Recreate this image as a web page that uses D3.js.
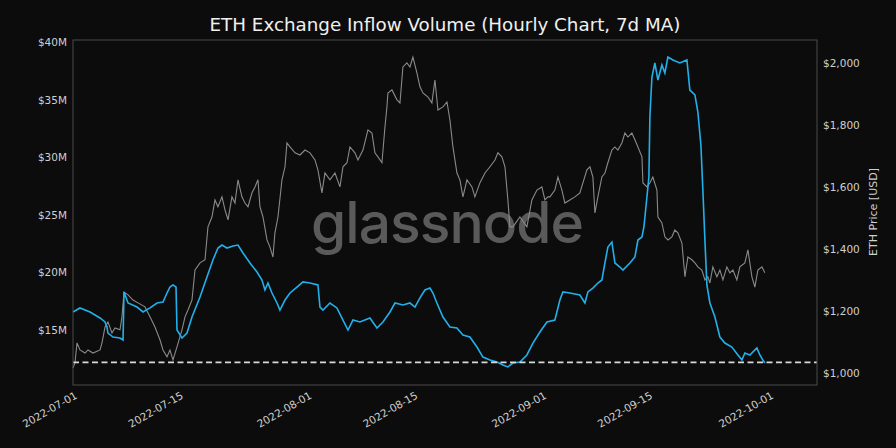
<!DOCTYPE html>
<html><head><meta charset="utf-8">
<script src="https://cdn.jsdelivr.net/npm/d3@7"></script>
<style>html,body{margin:0;padding:0;background:#0c0c0c;}svg{display:block;}</style>
</head><body>
<script>
// ---- data (days since 2022-07-01 00:00 UTC) ----
const inflowDays = [0.00,0.92,2.25,3.57,4.23,4.49,4.62,5.28,6.21,6.61,6.74,7.27,8.45,9.25,10.17,11.10,11.89,12.42,12.81,13.21,13.61,13.74,14.40,15.06,15.72,16.78,17.70,18.49,19.15,19.68,20.34,21.14,21.80,22.46,23.38,24.31,24.97,25.36,25.76,26.29,26.95,27.34,28.01,28.67,29.59,30.38,31.31,32.36,32.63,33.03,33.95,34.87,35.67,36.33,36.99,37.91,39.23,40.16,40.95,41.88,42.54,43.59,44.52,45.18,45.84,46.50,47.16,47.56,48.08,48.88,49.80,50.73,51.52,52.44,53.37,54.16,55.09,56.01,56.80,57.46,58.12,59.05,59.97,60.77,61.69,62.62,63.67,64.33,64.73,65.65,66.97,67.64,68.03,68.69,69.35,69.88,70.28,70.67,71.20,71.60,72.26,72.66,73.58,74.24,74.64,75.17,75.43,75.83,76.09,76.22,76.49,76.88,77.28,77.81,78.20,78.60,79.26,80.18,81.11,81.50,82.17,82.56,82.96,83.22,83.49,83.75,84.15,84.81,85.47,86.13,87.05,87.85,88.38,88.77,89.43,90.36,90.75,91.15,91.41];
const inflowUsdM = [16.55,16.90,16.55,16.03,15.68,15.24,14.72,14.37,14.29,14.11,18.29,17.33,16.98,16.55,16.90,17.33,17.42,18.20,18.72,18.90,18.72,14.98,14.29,14.72,16.11,17.85,19.59,21.07,22.11,22.37,22.11,22.29,22.37,21.68,20.81,20.03,19.33,18.46,19.07,18.20,17.33,16.72,17.59,18.20,18.72,19.16,19.07,18.90,16.98,16.72,17.33,16.90,15.85,14.98,15.85,15.68,16.03,15.16,15.68,16.55,17.33,17.16,17.33,16.98,17.77,18.46,18.63,18.20,17.33,16.11,15.24,15.16,14.55,14.37,13.50,12.63,12.37,12.20,11.94,11.77,12.11,12.20,12.81,13.85,14.81,15.68,15.85,17.59,18.29,18.20,18.03,17.33,18.29,18.63,19.07,19.33,20.81,22.20,22.63,20.81,20.46,20.20,20.81,21.33,22.81,23.07,23.94,26.55,28.29,33.50,36.98,38.20,36.72,38.03,37.33,38.72,38.46,38.20,38.46,35.85,35.42,33.94,31.07,27.16,22.81,18.90,17.33,16.11,14.37,13.85,13.50,12.81,12.37,12.98,12.81,13.42,12.81,12.37,12.11];
const priceDays = [0.00,0.26,0.53,0.92,1.59,1.98,2.64,3.57,3.83,4.23,4.62,5.15,5.55,6.21,6.47,6.74,7.27,7.93,8.59,9.51,10.17,10.83,11.49,11.89,12.42,12.81,13.21,13.74,14.40,14.80,15.19,15.72,16.12,16.78,17.44,17.83,18.36,18.76,19.15,19.68,20.08,20.48,21.00,21.40,21.80,22.32,22.72,23.12,23.65,24.04,24.44,24.70,25.10,25.63,26.02,26.42,26.68,27.08,27.61,28.01,28.27,28.67,29.33,29.99,30.65,31.31,31.97,32.36,32.89,33.29,33.95,34.61,35.27,35.67,36.20,36.59,37.25,37.65,38.31,38.97,39.50,39.89,40.29,40.82,41.22,41.48,41.61,42.14,42.80,43.20,43.59,44.12,44.52,44.91,45.44,45.84,46.24,46.90,47.42,47.82,48.22,48.88,49.41,49.80,50.20,50.73,51.12,51.52,52.05,52.71,53.10,53.76,54.43,55.09,55.75,56.14,56.67,57.07,57.46,57.73,58.12,59.05,59.97,60.63,61.29,61.95,62.35,62.75,63.01,63.67,64.07,64.60,64.99,65.65,66.31,66.97,67.37,67.90,68.30,68.69,68.96,69.35,69.88,70.28,70.67,71.20,71.60,71.99,72.52,72.92,73.32,73.84,74.24,74.64,75.17,75.30,75.83,76.22,76.61,77.15,77.28,77.81,78.20,78.60,79.13,79.52,79.92,80.45,80.85,81.24,81.77,82.17,82.56,83.09,83.49,83.88,84.15,84.54,85.07,85.47,85.87,86.39,86.79,87.19,87.71,88.11,88.77,89.17,89.70,90.09,90.49,91.02,91.41];
const priceUsd = [1017,1033,1098,1075,1065,1075,1065,1075,1098,1149,1165,1130,1146,1140,1182,1262,1253,1236,1227,1214,1182,1149,1108,1075,1053,1075,1043,1085,1140,1182,1204,1236,1333,1356,1366,1472,1504,1559,1537,1569,1527,1495,1569,1549,1624,1569,1549,1537,1582,1601,1624,1537,1504,1430,1407,1375,1453,1504,1624,1666,1743,1730,1711,1704,1720,1711,1688,1656,1582,1646,1624,1646,1601,1666,1679,1730,1711,1688,1720,1785,1775,1711,1698,1679,1795,1860,1904,1914,1882,1872,1988,2001,1988,2020,1969,1924,1904,1891,1872,1946,1849,1859,1875,1817,1730,1646,1624,1569,1624,1601,1569,1614,1646,1666,1688,1711,1698,1666,1559,1472,1472,1504,1472,1559,1591,1601,1559,1569,1569,1591,1633,1591,1549,1559,1569,1582,1614,1656,1666,1633,1517,1569,1633,1646,1679,1720,1730,1720,1743,1775,1762,1775,1753,1730,1698,1614,1601,1614,1633,1591,1504,1485,1440,1430,1440,1462,1453,1420,1311,1375,1366,1356,1343,1333,1301,1311,1291,1343,1311,1333,1301,1343,1324,1333,1301,1343,1356,1398,1311,1278,1333,1343,1324];
const thresholdUsdM = 12.17;
const leftTicks = [15, 20, 25, 30, 35, 40];
const rightTicks = [1000, 1200, 1400, 1600, 1800, 2000];
const xTickLabels = ["2022-07-01","2022-07-15","2022-08-01","2022-08-15","2022-09-01","2022-09-15","2022-10-01"];
const titleText = "ETH Exchange Inflow Volume (Hourly Chart, 7d MA)";
const rightAxisLabel = "ETH Price [USD]";

// ---- layout ----
const W = 896, H = 448;
const m = {left: 73, right: 79, top: 40, bottom: 63};
const start = Date.UTC(2022, 6, 1);
const toDate = d => new Date(start + d * 864e5);

const x = d3.scaleUtc().domain([toDate(0), toDate(98.3)]).range([m.left, W - m.right]);
const yL = d3.scaleLinear().domain([10.2, 40.2]).range([H - m.bottom, m.top]);
const yR = d3.scaleLinear().domain([962, 2075]).range([H - m.bottom, m.top]);

const svg = d3.select("body").append("svg").attr("width", W).attr("height", H);
svg.append("rect").attr("width", W).attr("height", H).attr("fill", "#0c0c0c");

const font = "DejaVu Sans, sans-serif";
const tickColor = "#cfcfcf";

// title
svg.append("text").attr("x", 445).attr("y", 31).attr("text-anchor", "middle")
  .attr("fill", "#f0f0f0").attr("font-family", font).attr("font-size", 18.3).text(titleText);

// watermark
svg.append("text").attr("x", 447).attr("y", 243).attr("text-anchor", "middle")
  .attr("fill", "#5a5a5a").attr("font-family", "Inter, Lato, sans-serif").attr("font-weight", 500)
  .attr("font-size", 57).attr("letter-spacing", -1).text("glassnode");

// lines
const priceData = priceDays.map((d, i) => ({t: toDate(d), v: priceUsd[i]}));
const inflowData = inflowDays.map((d, i) => ({t: toDate(d), v: inflowUsdM[i]}));

svg.append("path").datum(priceData)
  .attr("d", d3.line().x(d => x(d.t)).y(d => yR(d.v)))
  .attr("fill", "none").attr("stroke", "#8a8a8a").attr("stroke-width", 1.1);

svg.append("path").datum(inflowData)
  .attr("d", d3.line().x(d => x(d.t)).y(d => yL(d.v)))
  .attr("fill", "none").attr("stroke", "#22b0ea").attr("stroke-width", 1.6);

// threshold
svg.append("line").attr("x1", m.left).attr("x2", W - m.right)
  .attr("y1", yL(thresholdUsdM)).attr("y2", yL(thresholdUsdM))
  .attr("stroke", "#d8d8d8").attr("stroke-width", 1.6).attr("stroke-dasharray", "6,3.5");

// frame
svg.append("rect").attr("x", m.left).attr("y", m.top)
  .attr("width", W - m.left - m.right).attr("height", H - m.top - m.bottom)
  .attr("fill", "none").attr("stroke", "#4a4a4a").attr("stroke-width", 1);

// left axis
const gL = svg.append("g").attr("transform", `translate(${m.left},0)`)
  .call(d3.axisLeft(yL).tickValues(leftTicks).tickSize(0).tickPadding(6).tickFormat(v => `$${v}M`));
// right axis
const gR = svg.append("g").attr("transform", `translate(${W - m.right},0)`)
  .call(d3.axisRight(yR).tickValues(rightTicks).tickSize(0).tickPadding(6).tickFormat(d3.format("$,")));
// bottom axis
const xTickDates = xTickLabels.map(s => new Date(s + "T00:00:00Z"));
const gB = svg.append("g").attr("transform", `translate(0,${H - m.bottom})`)
  .call(d3.axisBottom(x).tickValues(xTickDates).tickSize(0).tickFormat(d3.utcFormat("%Y-%m-%d")));

[gL, gR, gB].forEach(g => {
  g.select(".domain").remove();
  g.selectAll("text").attr("fill", tickColor).attr("font-family", font).attr("font-size", 10.5);
});
gB.selectAll("text").attr("text-anchor", "end").attr("dy", 0)
  .attr("transform", "translate(3,10) rotate(-30)");

// right axis label
svg.append("text").attr("transform", `translate(877,212) rotate(-90)`).attr("text-anchor", "middle")
  .attr("fill", tickColor).attr("font-family", font).attr("font-size", 11).text(rightAxisLabel);
</script>
</body></html>
